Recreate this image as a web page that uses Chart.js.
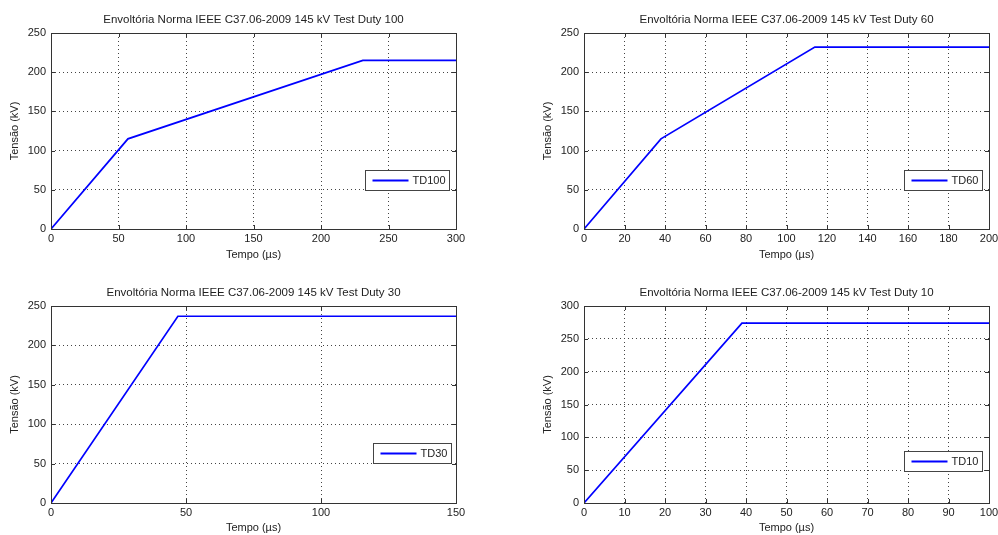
<!DOCTYPE html>
<html>
<head>
<meta charset="utf-8">
<script src="https://cdn.jsdelivr.net/npm/chart.js@4/dist/chart.umd.min.js"></script>
<style>
    html, body { margin: 0; padding: 0; background: #fff; overflow: hidden; width: 998px; height: 535px; }
    .panel { position: absolute; width: 470px; height: 268px; }
</style>
</head>
<body>
<div class="panel" style="left:0px;top:0px"><canvas id="c100" width="470" height="268"></canvas></div>
<div class="panel" style="left:533px;top:0px"><canvas id="c60" width="470" height="268"></canvas></div>
<div class="panel" style="left:0px;top:273px"><canvas id="c30" width="470" height="268"></canvas></div>
<div class="panel" style="left:533px;top:273px"><canvas id="c10" width="470" height="268"></canvas></div>
<script>
// Data (time in µs, voltage in kV)
const td100Time = [0, 57, 231, 300];
const td100Volt = [0, 115, 215, 215];
const td60Time = [0, 38, 114, 200];
const td60Volt = [0, 115, 232, 232];
const td30Time = [0, 47, 150];
const td30Volt = [0, 237, 237];
const td10Time = [0, 39, 100];
const td10Volt = [0, 274, 274];

const titles = [
    'Envoltória Norma IEEE C37.06-2009 145 kV Test Duty 100',
    'Envoltória Norma IEEE C37.06-2009 145 kV Test Duty 60',
    'Envoltória Norma IEEE C37.06-2009 145 kV Test Duty 30',
    'Envoltória Norma IEEE C37.06-2009 145 kV Test Duty 10'
];
const labels = ['TD100', 'TD60', 'TD30', 'TD10'];

const FONT = "'Liberation Sans', Arial, sans-serif";
const TEXT = '#222';
const FRAME = '#333';

// MATLAB-like box with inward ticks and a legend inside the axes
const matlabBox = {
    id: 'matlabBox',
    afterDatasetsDraw(chart, args, opts) {
        const ctx = chart.ctx;
        const a = chart.chartArea;
        const xs = chart.scales.x, ys = chart.scales.y;
        ctx.save();
        ctx.strokeStyle = FRAME;
        ctx.lineWidth = 1;
        ctx.beginPath();
        xs.ticks.forEach(t => {
            const px = Math.round(xs.getPixelForValue(t.value)) + 0.5;
            ctx.moveTo(px, a.bottom); ctx.lineTo(px, a.bottom - 4);
            ctx.moveTo(px, a.top); ctx.lineTo(px, a.top + 4);
        });
        ys.ticks.forEach(t => {
            const py = Math.round(ys.getPixelForValue(t.value)) + 0.5;
            ctx.moveTo(a.left, py); ctx.lineTo(a.left + 4, py);
            ctx.moveTo(a.right, py); ctx.lineTo(a.right - 4, py);
        });
        ctx.stroke();
        ctx.strokeRect(Math.round(a.left) + 0.5, Math.round(a.top) + 0.5,
            Math.round(a.right - a.left), Math.round(a.bottom - a.top));

        // legend
        const ds = chart.data.datasets[0];
        const w = opts.width, h = 20;
        const x = Math.round(a.right - opts.right - w) + 0.5;
        const y = Math.round(a.bottom - opts.bottom - h) + 0.5;
        ctx.fillStyle = '#fff';
        ctx.fillRect(x, y, w, h);
        ctx.strokeStyle = '#444';
        ctx.strokeRect(x, y, w, h);
        ctx.strokeStyle = ds.borderColor;
        ctx.lineWidth = 2;
        ctx.beginPath();
        ctx.moveTo(x + 7, y + h / 2);
        ctx.lineTo(x + 43, y + h / 2);
        ctx.stroke();
        ctx.fillStyle = TEXT;
        ctx.font = '11px ' + FONT;
        ctx.textBaseline = 'middle';
        ctx.fillText(ds.label, x + 47, y + h / 2 + 0.5);
        ctx.restore();
    }
};

function makeChart(id, title, label, xs, ys, xMax, xStep, yMax, xHeight, legend) {
    const points = xs.map((v, i) => ({ x: v, y: ys[i] }));
    const ctx = document.getElementById(id).getContext('2d');
    return new Chart(ctx, {
        type: 'line',
        data: {
            datasets: [{
                label: label,
                data: points,
                borderColor: '#0000ff',
                borderWidth: 1.7,
                pointRadius: 0,
                tension: 0,
                fill: false
            }]
        },
        options: {
            responsive: false,
            animation: false,
            layout: { padding: { left: 0, right: 14, top: 0, bottom: 0 } },
            plugins: {
                legend: { display: false },
                tooltip: { enabled: false },
                title: {
                    display: true,
                    fullSize: false,
                    text: title,
                    color: TEXT,
                    font: { family: FONT, size: 11.5, weight: 'normal', lineHeight: '14px' },
                    padding: { top: 13, bottom: 6 }
                },
                matlabBox: legend
            },
            scales: {
                x: {
                    type: 'linear',
                    min: 0, max: xMax,
                    afterFit: s => { s.height = xHeight; },
                    ticks: { stepSize: xStep, color: TEXT, padding: 3, maxRotation: 0, autoSkip: false,
                        font: { family: FONT, size: 11 } },
                    grid: { color: '#444', drawTicks: false },
                    border: { display: false, dash: [1, 3] },
                    title: { display: true, text: 'Tempo (µs)', color: TEXT,
                        font: { family: FONT, size: 11, lineHeight: '14px' }, padding: { top: 0, bottom: 6 } }
                },
                y: {
                    type: 'linear',
                    min: 0, max: yMax,
                    afterFit: s => { s.width = 51; },
                    ticks: { stepSize: 50, color: TEXT, padding: 5, font: { family: FONT, size: 11 } },
                    grid: { color: '#444', drawTicks: false },
                    border: { display: false, dash: [1, 3] },
                    title: { display: true, text: 'Tensão (kV)', color: TEXT,
                        font: { family: FONT, size: 11, lineHeight: '14px' }, padding: { top: 8, bottom: 0 } }
                }
            }
        },
        plugins: [matlabBox]
    });
}

makeChart('c100', titles[0], labels[0], td100Time, td100Volt, 300, 50, 250, 39, { width: 84, right: 7, bottom: 39 });
makeChart('c60', titles[1], labels[1], td60Time, td60Volt, 200, 20, 250, 39, { width: 78, right: 7, bottom: 39 });
makeChart('c30', titles[2], labels[2], td30Time, td30Volt, 150, 50, 250, 38, { width: 78, right: 5, bottom: 40 });
makeChart('c10', titles[3], labels[3], td10Time, td10Volt, 100, 10, 300, 38, { width: 78, right: 7, bottom: 32 });
</script>
</body>
</html>
